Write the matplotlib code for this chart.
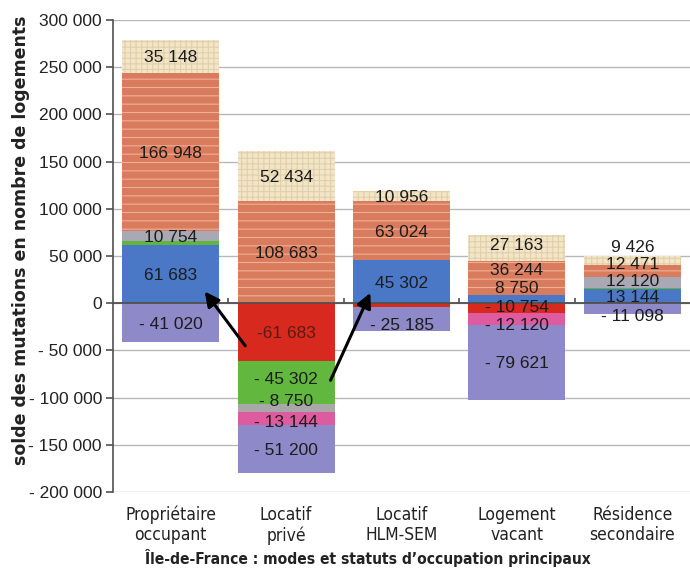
import numpy as np
import matplotlib
matplotlib.use('Agg')
import matplotlib.pyplot as plt
from matplotlib.ticker import FuncFormatter

categories = ['Propriétaire\noccupant', 'Locatif\nprivé', 'Locatif\nHLM-SEM',
              'Logement\nvacant', 'Résidence\nsecondaire']

# entrées (empilées de bas en haut)
pos_brown = [0, 0, 0, 0, 1500]
pos_blue = [61683, 0, 45302, 8750, 13144]
pos_green = [4500, 0, 0, 0, 1500]
pos_grey = [10754, 0, 0, 0, 12120]
pos_brick = [166948, 108683, 63024, 36244, 12471]
pos_cream = [35148, 52434, 10956, 27163, 9426]

# sorties (empilées de haut en bas)
neg_red = [0, -61683, -4500, -10754, 0]
neg_green = [0, -45302, 0, 0, 0]
neg_grey = [0, -8750, 0, 0, 0]
neg_pink = [0, -13144, 0, -12120, 0]
neg_purple = [-41020, -51200, -25185, -79621, -11098]

pos_series = [
    ('brown', pos_brown, dict(color='#8a4c3c'), False),
    ('blue', pos_blue, dict(color='#4a78c6'), True),
    ('green', pos_green, dict(color='#5fb63c'), False),
    ('grey', pos_grey, dict(color='#a9a9b6'), True),
    ('brick', pos_brick, dict(color='#d97c5e', hatch='--', edgecolor='#eeb096'), True),
    ('cream', pos_cream, dict(color='#f2e6c9', hatch='+++', edgecolor='#e2cfa8'), True),
]
neg_series = [
    ('red', neg_red, dict(color='#d8291f'), True),
    ('green', neg_green, dict(color='#62b83e'), True),
    ('grey', neg_grey, dict(color='#a8a8a8'), True),
    ('pink', neg_pink, dict(color='#df5ba0'), True),
    ('purple', neg_purple, dict(color='#8e89c8'), True),
]

no_label = {('red', 2)}

# petits décalages des étiquettes serrées
label_dy = {
    ('green', 1): 5000, ('grey', 1): 8500, ('pink', 1): -2000,
    ('purple', 2): -5000,
    ('cream', 3): 4000, ('brick', 3): 9000, ('blue', 3): 12500,
    ('red', 3): 2000, ('pink', 3): -5500,
    ('cream', 4): 15000, ('brick', 4): 8000, ('grey', 4): 2000,
    ('purple', 4): -7000,
}


def fmt(v):
    s = f"{abs(int(v)):,}".replace(',', ' ')
    return s if v >= 0 else '- ' + s


num_font = ['Liberation Sans', 'DejaVu Sans']
plt.rcParams['hatch.linewidth'] = 0.8

fig = plt.figure(figsize=(6.9, 5.78), dpi=100)
ax = fig.add_axes([0.1638, 0.1488, 0.8362, 0.8166])
x = np.arange(len(categories))
w = 0.84


def put_label(name, i, y, v):
    if (name, i) in no_label:
        return
    txt = fmt(v)
    col = '#1c1c1c'
    if name == 'red' and i == 1:
        txt = txt.replace('- ', '-')
        col = '#5a1c12'
    ax.text(x[i], y + label_dy.get((name, i), 0), txt, ha='center',
            va='center_baseline', fontsize=12.5, family=num_font, color=col, zorder=4)


bottom = np.zeros(len(categories))
for name, vals, style, show in pos_series:
    vals = np.array(vals, dtype=float)
    kw = dict(style)
    kw.setdefault('linewidth', 0)
    if 'hatch' in kw:
        kw['facecolor'] = kw.pop('color')
    ax.bar(x, vals, w, bottom=bottom, zorder=2, **kw)
    if show:
        for i, v in enumerate(vals):
            if v != 0:
                put_label(name, i, bottom[i] + v / 2, v)
    bottom += vals

bottom = np.zeros(len(categories))
for name, vals, style, show in neg_series:
    vals = np.array(vals, dtype=float)
    ax.bar(x, vals, w, bottom=bottom, linewidth=0, zorder=2, **style)
    if show:
        for i, v in enumerate(vals):
            if v != 0:
                put_label(name, i, bottom[i] + v / 2, v)
    bottom += vals

# flèches de report locatif privé -> propriétaire / HLM
ax.annotate('', xy=(x[0] + 0.28, 0.24 * pos_blue[0]),
            xytext=(x[1] - 0.34, 0.77 * neg_red[1]),
            arrowprops=dict(arrowstyle='-|>', lw=2.2, color='black', mutation_scale=22),
            zorder=5)
ax.annotate('', xy=(x[2] - 0.26, 0.30 * pos_blue[2]),
            xytext=(x[1] + 0.375, neg_red[1] + 0.5 * neg_green[1]),
            arrowprops=dict(arrowstyle='-|>', lw=2.2, color='black', mutation_scale=22),
            zorder=5)

ax.set_xlim(-0.5, 4.5)
ax.set_ylim(-200000, 300000)
ax.set_yticks(np.arange(-200000, 300001, 50000))
ax.yaxis.set_major_formatter(FuncFormatter(lambda v, p: '0' if v == 0 else fmt(v)))
ax.yaxis.grid(True, color='#b8b8b8', lw=1, zorder=0)
ax.set_axisbelow(True)
ax.axhline(0, color='#505050', lw=1.3, zorder=3)
ax.vlines(x[:-1] + 0.5, 0, 5000, color='#505050', lw=1.2, zorder=3)

for s in ['top', 'right', 'bottom']:
    ax.spines[s].set_visible(False)
ax.spines['left'].set_color('#505050')
ax.spines['left'].set_linewidth(1.2)

ax.set_xticks(x)
ax.set_xticklabels(categories, fontsize=12.5, family='DejaVu Sans', stretch='condensed',
                   color='#222222', linespacing=1.15)
ax.tick_params(axis='x', length=0, pad=10)
ax.tick_params(axis='y', length=5, width=1.2, color='#505050', pad=3)
for lab in ax.get_yticklabels():
    lab.set_fontsize(12.5)
    lab.set_family(num_font)
    lab.set_color('#222222')

fig.text(0.03, 0.585, 'solde des mutations en nombre de logements', rotation=90,
         ha='center', va='center', fontsize=12.5, fontweight='bold',
         family='DejaVu Sans', color='#222222')
fig.text(0.533, 0.035, 'Île-de-France : modes et statuts d’occupation principaux',
         ha='center', va='center', fontsize=11.2, fontweight='bold', stretch='condensed',
         family='DejaVu Sans', color='#222222')

fig.savefig('out.png', dpi=100, facecolor='white')
